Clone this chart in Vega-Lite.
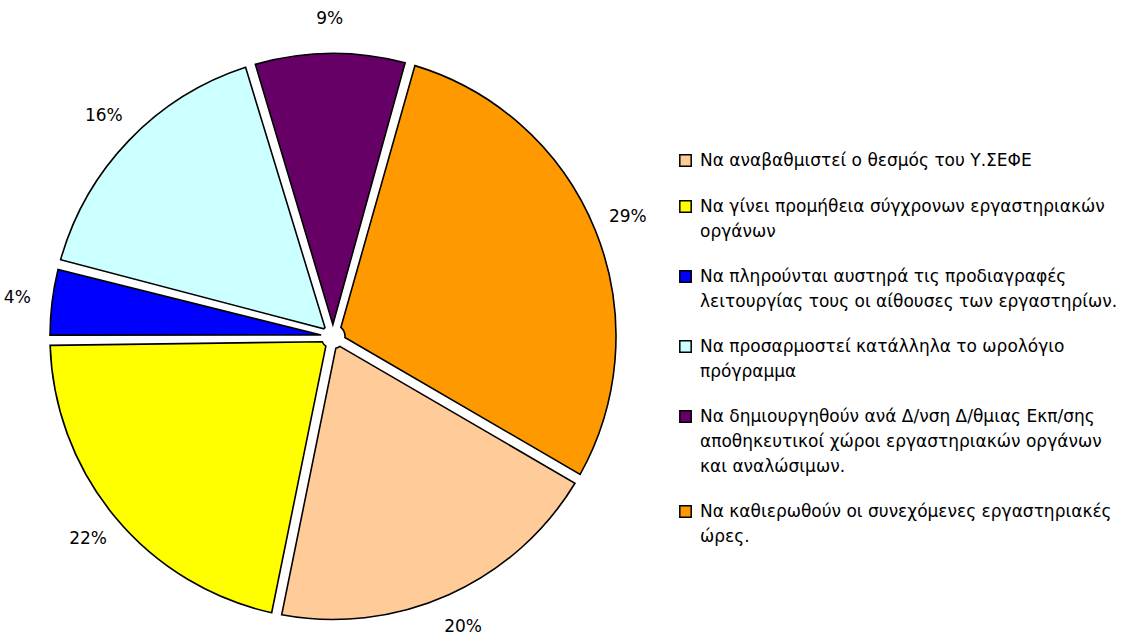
{
  "$schema": "https://vega.github.io/schema/vega-lite/v6.json",
  "width": 666,
  "height": 599,
  "autosize": {"type": "none"},
  "padding": {"left": 0, "top": 37, "right": 482, "bottom": 0},
  "background": "white",
  "config": {"view": {"stroke": null}, "font": "DejaVu Sans"},
  "data": {
    "values": [
      {"order": 1, "label": "Να αναβαθμιστεί ο θεσμός  του Υ.ΣΕΦΕ", "share": 0.198},
      {"order": 2, "label": "Να γίνει προμήθεια σύγχρονων εργαστηριακών|οργάνων", "share": 0.216},
      {"order": 3, "label": "Να πληρούνται αυστηρά τις προδιαγραφές|λειτουργίας τους οι αίθουσες των εργαστηρίων.", "share": 0.043},
      {"order": 4, "label": "Να προσαρμοστεί κατάλληλα το ωρολόγιο|πρόγραμμα", "share": 0.162},
      {"order": 5, "label": "Να δημιουργηθούν ανά Δ/νση Δ/θμιας Εκπ/σης|αποθηκευτικοί χώροι εργαστηριακών οργάνων|και αναλώσιμων.", "share": 0.091},
      {"order": 6, "label": "Να καθιερωθούν οι συνεχόμενες εργαστηριακές|ώρες.", "share": 0.29}
    ]
  },
  "encoding": {
    "theta": {"field": "share", "type": "quantitative", "stack": true, "scale": {"range": [2.098, 8.381]}},
    "order": {"field": "order", "type": "quantitative"}
  },
  "layer": [
    {
      "mark": {"type": "arc", "outerRadius": 283, "innerRadius": 12, "padAngle": 0.036, "stroke": "black", "strokeWidth": 1.6},
      "encoding": {
        "color": {
          "field": "label",
          "type": "nominal",
          "scale": {
            "domain": [
              "Να αναβαθμιστεί ο θεσμός  του Υ.ΣΕΦΕ",
              "Να γίνει προμήθεια σύγχρονων εργαστηριακών|οργάνων",
              "Να πληρούνται αυστηρά τις προδιαγραφές|λειτουργίας τους οι αίθουσες των εργαστηρίων.",
              "Να προσαρμοστεί κατάλληλα το ωρολόγιο|πρόγραμμα",
              "Να δημιουργηθούν ανά Δ/νση Δ/θμιας Εκπ/σης|αποθηκευτικοί χώροι εργαστηριακών οργάνων|και αναλώσιμων.",
              "Να καθιερωθούν οι συνεχόμενες εργαστηριακές|ώρες."
            ],
            "range": ["#FFCC99", "#FFFF00", "#0000FF", "#CCFFFF", "#660066", "#FF9900"]
          },
          "legend": {
            "title": null,
            "orient": "none",
            "legendX": 677,
            "legendY": 115,
            "symbolType": "square",
            "symbolSize": 130,
            "symbolStrokeColor": "black",
            "symbolStrokeWidth": 1.5,
            "labelFontSize": 17,
            "labelColor": "black",
            "labelLimit": 600,
            "labelOffset": 6,
            "labelBaseline": "middle",
            "rowPadding": 27,
            "labelExpr": "split(datum.label, '|')",
            "encode": {"labels": {"update": {"lineHeight": {"value": 25}}}}
          }
        }
      }
    },
    {
      "mark": {"type": "text", "radius": 318, "fontSize": 17, "color": "black", "baseline": "middle", "align": "center"},
      "encoding": {
        "text": {"field": "share", "type": "quantitative", "format": ".0%"}
      }
    }
  ]
}
